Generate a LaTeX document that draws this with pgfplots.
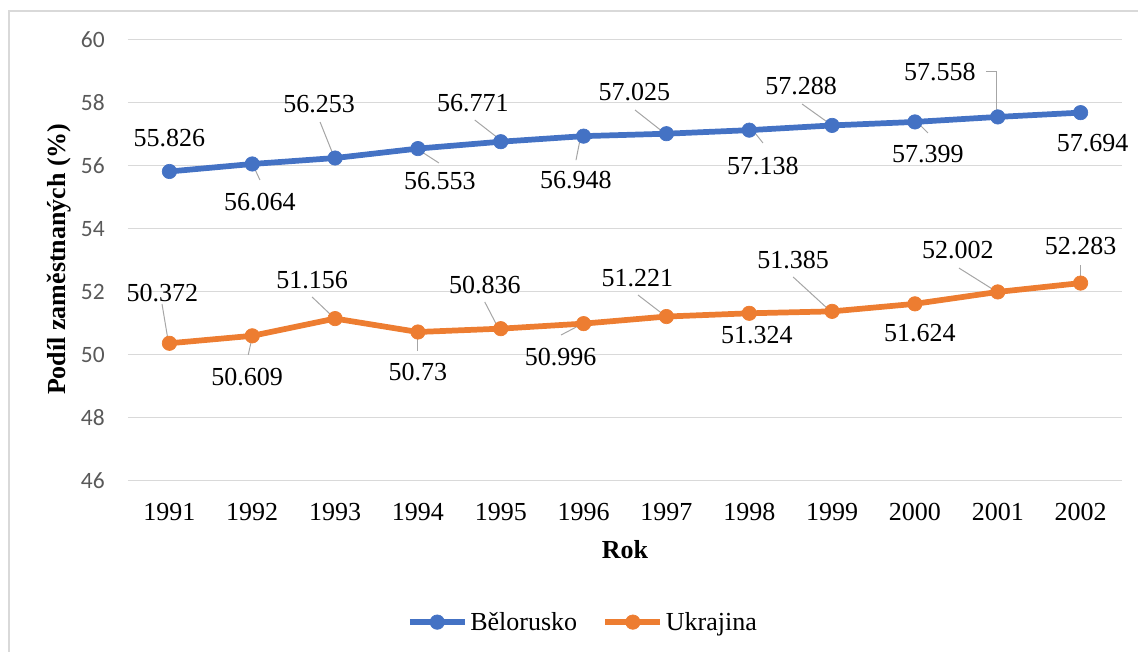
\documentclass[border=0pt]{standalone}
\usepackage{pgfplots}
\pgfplotsset{compat=1.18}
\usepackage{fontspec}
\setmainfont{Liberation Serif}
\newfontfamily\calib{Carlito}
\usetikzlibrary{calc}

\definecolor{blueC}{HTML}{4472C4}
\definecolor{orangeC}{HTML}{ED7D31}
\definecolor{gridC}{HTML}{D9D9D9}
\definecolor{tickC}{HTML}{595959}
\definecolor{leadC}{HTML}{A6A6A6}

% data label / leader line, offsets in image pixels (x right, y up)
\newcommand\dl[5]{\node[dlab] at ($(axis cs:#1,#2)+(#3*0.75pt,#4*0.75pt)$) {#5};}
\newcommand\ld[6]{\draw[lead] ($(axis cs:#1,#2)+(#3*0.75pt,#4*0.75pt)$) -- ($(axis cs:#1,#2)+(#5*0.75pt,#6*0.75pt)$);}

\begin{document}
\begin{tikzpicture}[
    dlab/.style={font=\fontsize{19.5}{23}\selectfont, inner sep=0pt, anchor=center},
    lead/.style={draw=leadC, line width=0.75pt}]
  % frame of the picture, in pixels from the top left corner
  \begin{scope}[x=0.75pt, y=-0.75pt, shift={(-96pt,360.75pt)}]
    \path[use as bounding box] (0,0) rectangle (1138,652);
    \draw[gridC, line width=1pt] (9,652) -- (9,11) -- (1138,11);
  \end{scope}

  \begin{axis}[
      at={(0,0)}, anchor=south west,
      scale only axis, width=745.5pt, height=330.75pt,
      xmin=-0.5, xmax=11.5, ymin=46, ymax=60,
      xtick={0,...,11},
      xticklabels={1991,1992,1993,1994,1995,1996,1997,1998,1999,2000,2001,2002},
      ytick={46,48,...,60},
      axis line style={draw=none}, major tick length=0pt,
      ymajorgrids, grid style={gridC, line width=0.75pt},
      clip=false,
      /pgf/number format/assume math mode=true,
      yticklabel style={font=\calib\fontsize{17.6}{20}\selectfont, text=tickC,
        anchor=east, inner sep=0pt, xshift=-17.25pt},
      xticklabel style={font=\fontsize{19.5}{23}\selectfont, anchor=center,
        inner sep=0pt, yshift=-23.25pt},
      ylabel={Podíl zaměstnaných (\%)},
      ylabel style={font=\bfseries\fontsize{19.5}{23}\selectfont,
        at={(axis description cs:-0.0694,0.503)}, anchor=center},
      xlabel={Rok},
      xlabel style={font=\bfseries\fontsize{19.5}{23}\selectfont,
        at={(axis description cs:0.5,-0.1565)}, anchor=center},
      legend columns=2,
      legend style={at={(axis description cs:0.458,-0.32)}, anchor=center,
        draw=none, fill=none, font=\fontsize{19.5}{23}\selectfont,
        nodes={inner sep=2pt},
        /tikz/every even column/.append style={column sep=17pt}},
      legend image code/.code={\draw[mark repeat=2, mark phase=2, #1]
        plot coordinates {(0pt,0pt) (20.6pt,0pt) (41.25pt,0pt)};},
    ]
    % leader lines
    \ld{1}{56.064}{0.7}{-1}{7.7}{-16}
    \ld{2}{56.253}{-15}{36}{-1}{1}
    \ld{3}{56.553}{4}{-3.4}{21}{-14.4}
    \ld{4}{56.771}{-26}{21.7}{-2.8}{3.7}
    \ld{5}{56.948}{-3.6}{-3.9}{-7.6}{-24}
    \ld{6}{57.025}{-31.4}{23.7}{-3.4}{1.7}
    \ld{7}{57.138}{5.7}{-2.8}{13.7}{-12.8}
    \ld{8}{57.288}{-30}{21.4}{-2}{1.4}
    \ld{9}{57.399}{2}{0}{13}{-11}
    \draw[lead] ($(axis cs:10,57.558)+(-12*0.75pt,45*0.75pt)$) -- ++(8.25pt,0pt)
      -- ($(axis cs:10,57.558)+(-1*0.75pt,4*0.75pt)$);
    \ld{0}{50.372}{-7.4}{39.3}{-1.4}{3.3}
    \ld{1}{50.609}{0}{-1}{-4}{-19}
    \ld{2}{51.156}{-23}{21.6}{-2}{1.6}
    \ld{3}{50.73}{0}{-1}{0}{-19}
    \ld{4}{50.836}{-16}{26.7}{-3}{1.7}
    \ld{5}{50.996}{-1.6}{-0.4}{-22.6}{-11.4}
    \ld{6}{51.221}{-28.4}{21.5}{-2.4}{1.5}
    \ld{8}{51.385}{-39}{34.4}{-3}{1.4}
    \ld{10}{52.002}{-38.8}{23.9}{-3.8}{1.9}
    \ld{11}{52.283}{0}{18}{0}{3}

    \addplot[blueC, line width=4.3pt, line join=round, mark=*, mark size=5.4pt,
      mark options={fill=blueC, draw=blueC, line width=0.5pt}]
      coordinates {(0,55.826) (1,56.064) (2,56.253) (3,56.553) (4,56.771) (5,56.948)
        (6,57.025) (7,57.138) (8,57.288) (9,57.399) (10,57.558) (11,57.694)};
    \addlegendentry{Bělorusko}
    \addplot[orangeC, line width=4.3pt, line join=round, mark=*, mark size=5.4pt,
      mark options={fill=orangeC, draw=orangeC, line width=0.5pt}]
      coordinates {(0,50.372) (1,50.609) (2,51.156) (3,50.73) (4,50.836) (5,50.996)
        (6,51.221) (7,51.324) (8,51.385) (9,51.624) (10,52.002) (11,52.283)};
    \addlegendentry{Ukrajina}

    % data labels
    \dl{0}{55.826}{0}{33.5}{55.826}
    \dl{1}{56.064}{7.7}{-38}{56.064}
    \dl{2}{56.253}{-16}{54}{56.253}
    \dl{3}{56.553}{22}{-32.4}{56.553}
    \dl{4}{56.771}{-28}{39}{56.771}
    \dl{5}{56.948}{-7.6}{-44}{56.948}
    \dl{6}{57.025}{-32}{42}{57.025}
    \dl{7}{57.138}{13.7}{-35.8}{57.138}
    \dl{8}{57.288}{-31}{39}{57.288}
    \dl{9}{57.399}{13}{-32}{57.399}
    \dl{10}{57.558}{-58}{45}{57.558}
    \dl{11}{57.694}{12}{-30}{57.694}
    \dl{0}{50.372}{-7}{50}{50.372}
    \dl{1}{50.609}{-5}{-41}{50.609}
    \dl{2}{51.156}{-23}{39}{51.156}
    \dl{3}{50.73}{0}{-40}{50.73}
    \dl{4}{50.836}{-16}{44}{50.836}
    \dl{5}{50.996}{-23}{-33}{50.996}
    \dl{6}{51.221}{-29}{38}{51.221}
    \dl{7}{51.324}{7.7}{-21.7}{51.324}
    \dl{8}{51.385}{-39}{51}{51.385}
    \dl{9}{51.624}{5}{-29.2}{51.624}
    \dl{10}{52.002}{-40}{42}{52.002}
    \dl{11}{52.283}{0}{37}{52.283}
  \end{axis}
\end{tikzpicture}
\end{document}
